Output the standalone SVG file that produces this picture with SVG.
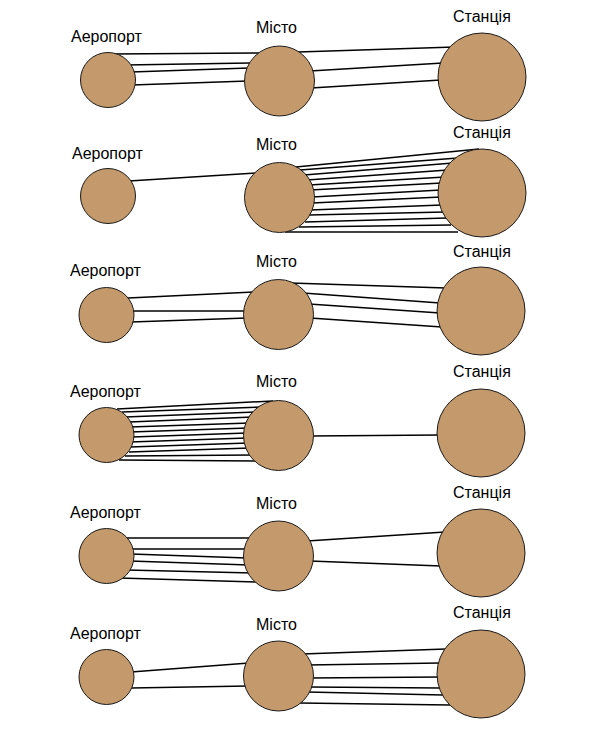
<svg xmlns="http://www.w3.org/2000/svg" width="595" height="744" viewBox="0 0 595 744">
<style>
.n{fill:#c4996c;stroke:#1a1a1a;stroke-width:1}
.t{font-family:"Liberation Sans",Arial,sans-serif;font-size:16px;fill:#000}
#connectors line{stroke:#000;stroke-width:1.5}
</style>
<rect width="595" height="744" fill="#fff"/>
<g id="connectors">
<!-- row 1 -->
<line x1="111" y1="54" x2="259" y2="53"/>
<line x1="125" y1="65" x2="250" y2="63"/>
<line x1="131" y1="72" x2="249" y2="68"/>
<line x1="132" y1="85" x2="248" y2="81"/>
<line x1="298" y1="52" x2="455" y2="47"/>
<line x1="310" y1="71" x2="443" y2="63"/>
<line x1="311" y1="88" x2="441" y2="80"/>
<!-- row 2 -->
<line x1="129" y1="181" x2="256" y2="173"/>
<line x1="296" y1="167" x2="479" y2="149"/>
<line x1="300" y1="170" x2="458" y2="158"/>
<line x1="304" y1="175" x2="453" y2="163"/>
<line x1="307" y1="180" x2="448" y2="170"/>
<line x1="309" y1="185" x2="445" y2="177"/>
<line x1="310" y1="190" x2="442" y2="183"/>
<line x1="312" y1="197" x2="441" y2="190"/>
<line x1="312" y1="203" x2="441" y2="197"/>
<line x1="310" y1="210" x2="442" y2="205"/>
<line x1="309" y1="215" x2="445" y2="212"/>
<line x1="305" y1="222" x2="447" y2="218"/>
<line x1="299" y1="227" x2="451" y2="225"/>
<line x1="285" y1="232" x2="458" y2="232"/>
<!-- row 3 -->
<line x1="128" y1="298" x2="254" y2="292"/>
<line x1="131" y1="311" x2="247" y2="311"/>
<line x1="131" y1="322" x2="247" y2="318"/>
<line x1="290" y1="283" x2="446" y2="288"/>
<line x1="303" y1="293" x2="440" y2="303"/>
<line x1="309" y1="304" x2="440" y2="313"/>
<line x1="310" y1="318" x2="442" y2="327"/>
<!-- row 4 -->
<line x1="117" y1="409" x2="273" y2="401"/>
<line x1="122" y1="412" x2="263" y2="407"/>
<line x1="125" y1="417" x2="258" y2="412"/>
<line x1="129" y1="422" x2="253" y2="417"/>
<line x1="130" y1="427" x2="250" y2="423"/>
<line x1="130" y1="432" x2="248" y2="428"/>
<line x1="132" y1="437" x2="247" y2="433"/>
<line x1="130" y1="442" x2="247" y2="438"/>
<line x1="130" y1="447" x2="248" y2="443"/>
<line x1="129" y1="452" x2="250" y2="448"/>
<line x1="125" y1="456" x2="253" y2="455"/>
<line x1="119" y1="460" x2="260" y2="461"/>
<line x1="310" y1="436" x2="440" y2="435"/>
<!-- row 5 -->
<line x1="125" y1="538" x2="251" y2="538"/>
<line x1="130" y1="549" x2="247" y2="549"/>
<line x1="131" y1="554" x2="247" y2="558"/>
<line x1="130" y1="561" x2="249" y2="565"/>
<line x1="126" y1="570" x2="253" y2="573"/>
<line x1="119" y1="578" x2="259" y2="582"/>
<line x1="307" y1="541" x2="445" y2="532"/>
<line x1="310" y1="561" x2="441" y2="566"/>
<!-- row 6 -->
<line x1="131" y1="672" x2="249" y2="663"/>
<line x1="131" y1="688" x2="248" y2="686"/>
<line x1="302" y1="654" x2="446" y2="649"/>
<line x1="307" y1="665" x2="441" y2="663"/>
<line x1="309" y1="678" x2="440" y2="677"/>
<line x1="309" y1="687" x2="440" y2="688"/>
<line x1="307" y1="692" x2="443" y2="695"/>
<line x1="300" y1="703" x2="450" y2="705"/>
</g>
<g id="row1">
<g id="airport1"><circle class="n" cx="108" cy="80" r="27.5"/><text class="t" x="71" y="42">Аеропорт</text></g>
<g id="city1"><circle class="n" cx="279.5" cy="81" r="35"/><text class="t" x="256" y="33">Місто</text></g>
<g id="station1"><circle class="n" cx="482" cy="77" r="44"/><text class="t" x="453" y="22">Станція</text></g>
</g>
<g id="row2">
<g id="airport2"><circle class="n" cx="108" cy="196" r="27.5"/><text class="t" x="72" y="159">Аеропорт</text></g>
<g id="city2"><circle class="n" cx="279.5" cy="197.5" r="35"/><text class="t" x="256" y="150">Місто</text></g>
<g id="station2"><circle class="n" cx="482" cy="193" r="44"/><text class="t" x="453" y="138">Станція</text></g>
</g>
<g id="row3">
<g id="airport3"><circle class="n" cx="106.5" cy="315" r="27.5"/><text class="t" x="70" y="276">Аеропорт</text></g>
<g id="city3"><circle class="n" cx="278.5" cy="314.5" r="35"/><text class="t" x="256" y="267">Місто</text></g>
<g id="station3"><circle class="n" cx="481" cy="311" r="44"/><text class="t" x="453" y="257">Станція</text></g>
</g>
<g id="row4">
<g id="airport4"><circle class="n" cx="106.5" cy="435" r="27.5"/><text class="t" x="70" y="397">Аеропорт</text></g>
<g id="city4"><circle class="n" cx="278.5" cy="435.5" r="35"/><text class="t" x="256" y="387">Місто</text></g>
<g id="station4"><circle class="n" cx="481" cy="433" r="44"/><text class="t" x="453" y="377">Станція</text></g>
</g>
<g id="row5">
<g id="airport5"><circle class="n" cx="106.5" cy="556" r="27.5"/><text class="t" x="70" y="518">Аеропорт</text></g>
<g id="city5"><circle class="n" cx="278.5" cy="556" r="35"/><text class="t" x="256" y="509">Місто</text></g>
<g id="station5"><circle class="n" cx="481" cy="553" r="44"/><text class="t" x="453" y="498">Станція</text></g>
</g>
<g id="row6">
<g id="airport6"><circle class="n" cx="106.5" cy="677" r="27.5"/><text class="t" x="70" y="639">Аеропорт</text></g>
<g id="city6"><circle class="n" cx="278.5" cy="676" r="35"/><text class="t" x="256" y="630">Місто</text></g>
<g id="station6"><circle class="n" cx="481" cy="674" r="44"/><text class="t" x="453" y="618">Станція</text></g>
</g>
</svg>
